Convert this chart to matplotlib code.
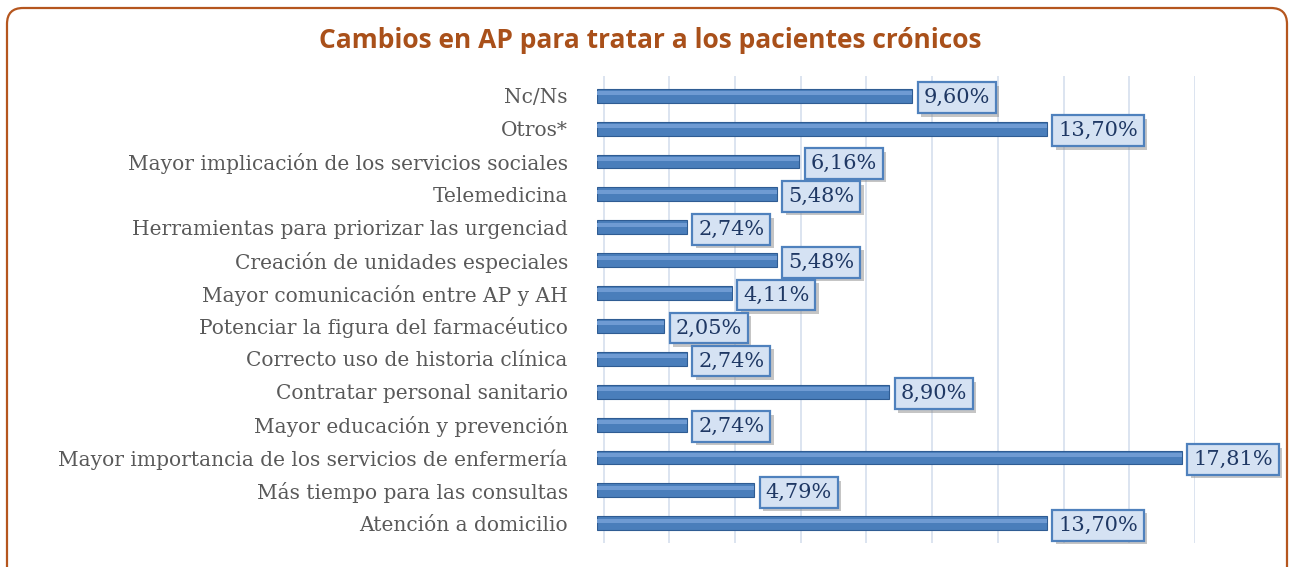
import matplotlib.pyplot as plt
from matplotlib.patches import FancyBboxPatch
import matplotlib.patheffects as pe
import numpy as np

# categories, top to bottom as in the chart
categories = ['Nc/Ns', 'Otros*', 'Mayor implicación de los servicios sociales',
              'Telemedicina', 'Herramientas para priorizar las urgenciad',
              'Creación de unidades especiales', 'Mayor comunicación entre AP y AH',
              'Potenciar la figura del farmacéutico', 'Correcto uso de historia clínica',
              'Contratar personal sanitario', 'Mayor educación y prevención',
              'Mayor importancia de los servicios de enfermería',
              'Más tiempo para las consultas', 'Atención a domicilio']
values = [9.60, 13.70, 6.16, 5.48, 2.74, 5.48, 4.11, 2.05, 2.74, 8.90, 2.74, 17.81, 4.79, 13.70]
labels = ['9,60%', '13,70%', '6,16%', '5,48%', '2,74%', '5,48%', '4,11%', '2,05%',
          '2,74%', '8,90%', '2,74%', '17,81%', '4,79%', '13,70%']

W, H = 1289, 567
fig = plt.figure(figsize=(W / 100, H / 100), dpi=100)

# background axes in pixel units for the rounded frame
bg = fig.add_axes([0, 0, 1, 1])
bg.set_xlim(0, W)
bg.set_ylim(H, 0)
bg.axis('off')
bg.add_patch(FancyBboxPatch((7, 8), W - 9, 620, boxstyle='round,pad=0,rounding_size=16',
                            fill=False, edgecolor='#B5561E', lw=1.6))
bg.text(650, 40, 'Cambios en AP para tratar a los pacientes crónicos', ha='center', va='center',
        fontsize=19, fontweight='bold', color='#A9501A', family='Open Sans')

ax = fig.add_axes([597 / W, 1 - 543 / H, 598 / W, 467 / H])
y = np.arange(len(categories))
ax.barh(y, values, height=0.42, color='#4A7EBB', edgecolor='#2F5C93', lw=0.8, zorder=3)
ax.barh(y - 0.08, values, height=0.12, color='#6F9BD3', lw=0, zorder=4)

for yi, v, lab in zip(y, values, labels):
    t = ax.annotate(lab, (v, yi), xytext=(8, -1.5), textcoords='offset points', ha='left', va='center',
                    fontsize=15, color='#1F3864', family='DejaVu Serif', zorder=6,
                    bbox=dict(boxstyle='square,pad=0.28', fc='#D5E2F3', ec='#4F81BD', lw=1.6))
    t.get_bbox_patch().set_path_effects([pe.withSimplePatchShadow(offset=(2.5, -2.5),
                                                                  shadow_rgbFace='#8C8C8C', alpha=0.5)])

ax.set_xlim(0, 18)
ax.set_ylim(len(categories) - 0.4, -0.6)
ax.set_xticks(np.arange(0, 19, 2) + 0.2)
ax.xaxis.grid(True, color='#D6DFEE', lw=1.2, zorder=0)
ax.tick_params(axis='x', length=0, labelbottom=False)
ax.tick_params(axis='y', length=0, pad=21)
ax.set_yticks(y)
ax.set_yticklabels(categories, fontsize=14.5, color='#595959', family='DejaVu Serif')
for s in ax.spines.values():
    s.set_visible(False)

fig.savefig('out.png', dpi=100)
